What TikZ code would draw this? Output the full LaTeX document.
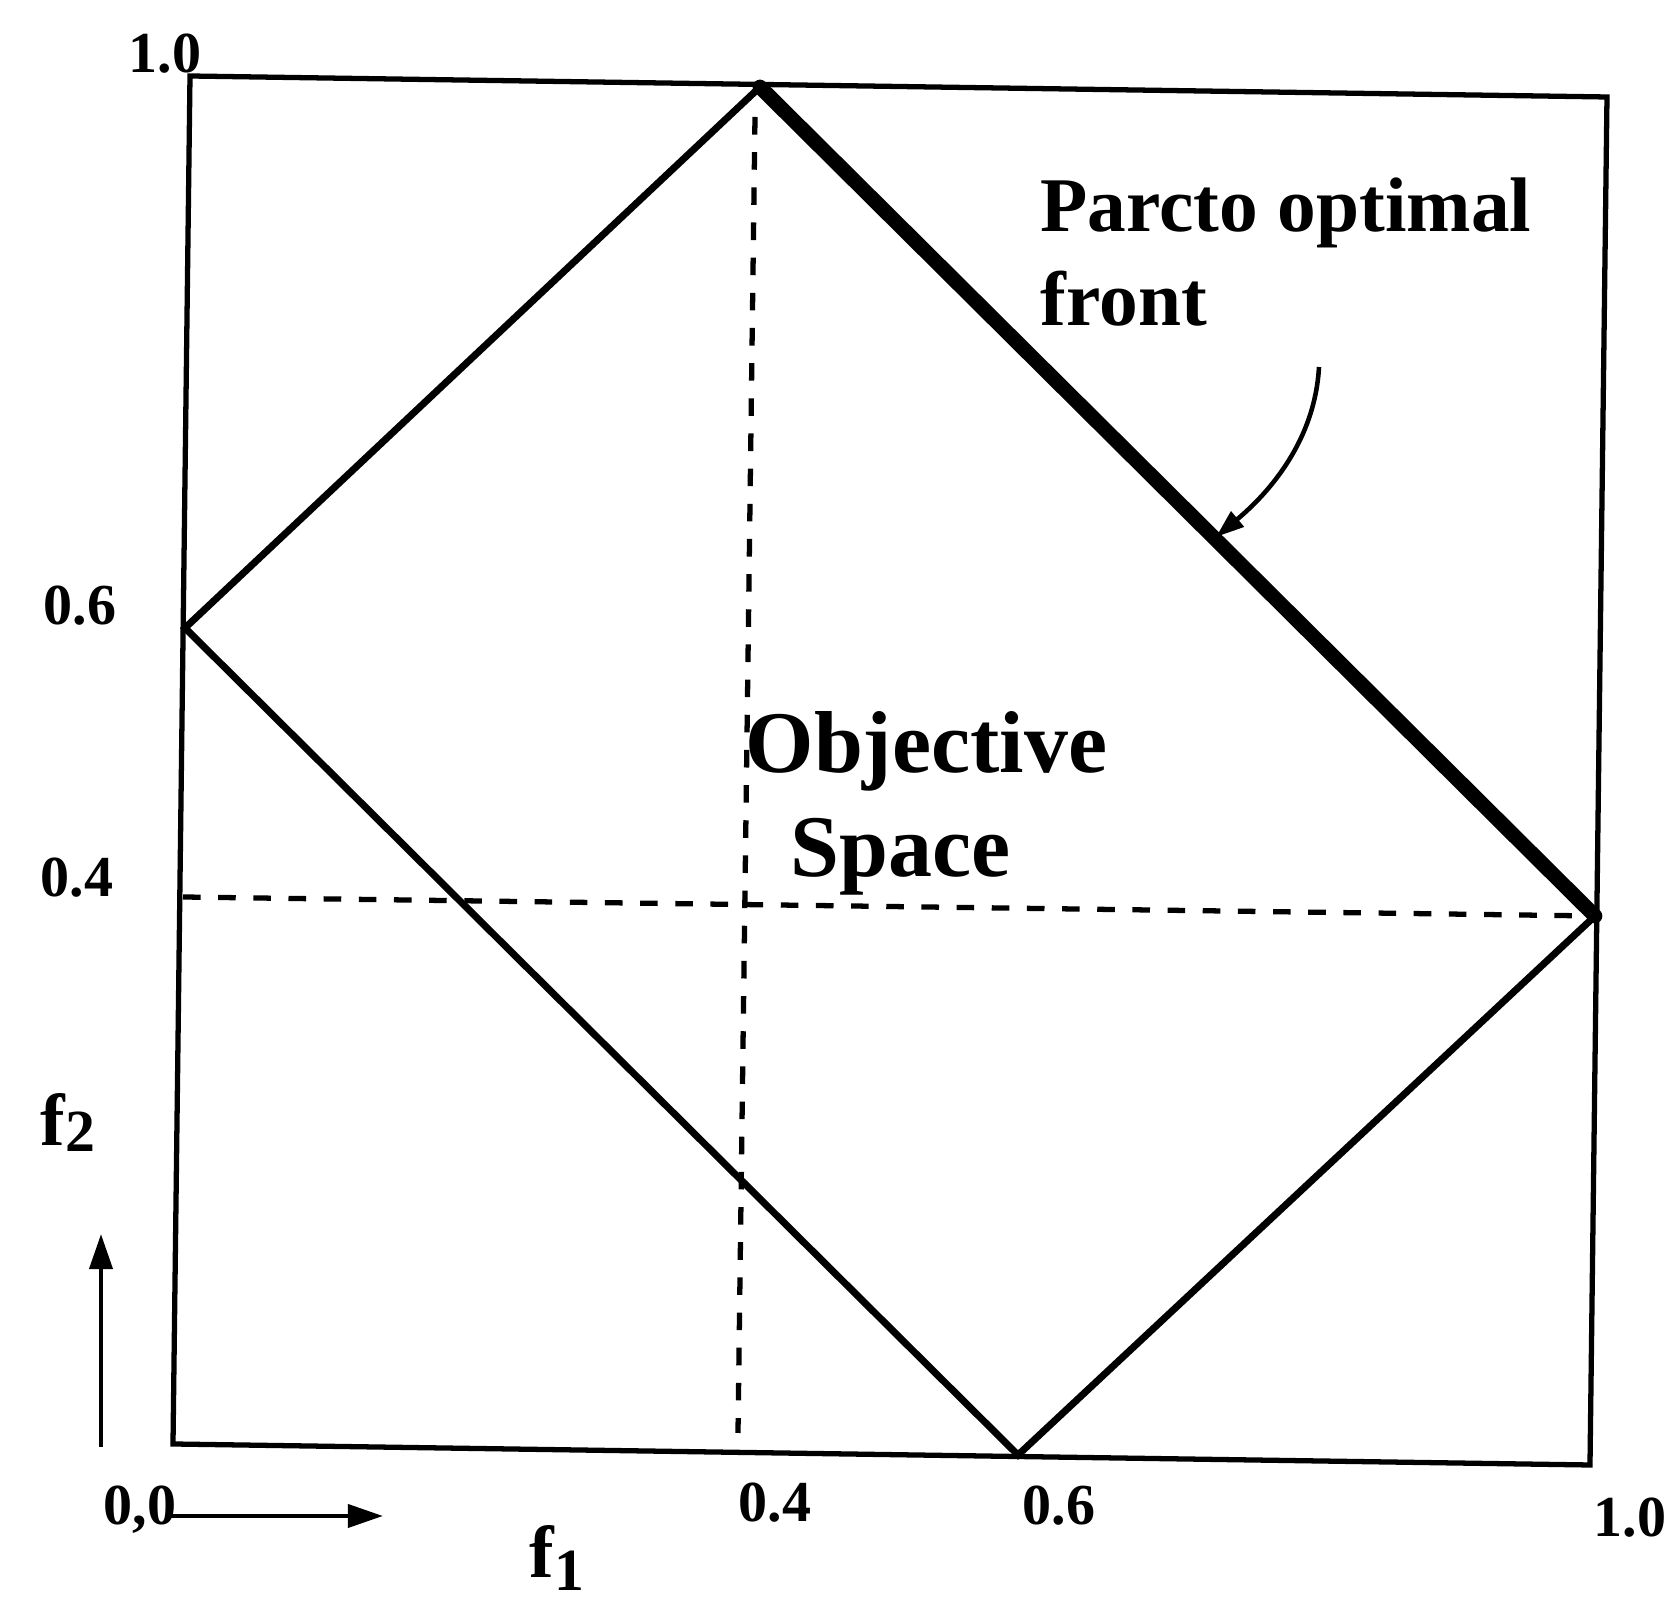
\documentclass[tikz,border=0pt]{standalone}
\usepackage{fontspec}
\setmainfont{Liberation Serif}
\usetikzlibrary{arrows.meta}
\begin{document}
\begin{tikzpicture}[x=0.01cm,y=-0.01cm,
  boxline/.style={line width=1.5pt, line join=miter},
  edge/.style={line width=2pt, line join=miter},
  frontline/.style={line width=4.2pt, line cap=round},
  guide/.style={line width=1.5pt, dash pattern=on 5pt off 5pt},
  axisarrow/.style={line width=1.3pt, -{Triangle[length=10pt,width=6.5pt]}},
  pointer/.style={line width=1.3pt, -{Triangle[length=8pt,width=5.5pt]}},
  ticklabel/.style={inner sep=0pt, anchor=base west, font=\fontsize{16.5}{18}\selectfont\bfseries},
  annot/.style={inner sep=0pt, anchor=base west, font=\fontsize{22}{27}\selectfont\bfseries},
  bigannot/.style={inner sep=0pt, anchor=base west, font=\fontsize{25}{30}\selectfont\bfseries},
  axislabel/.style={inner sep=0pt, anchor=base west, font=\fontsize{21}{24}\selectfont\bfseries}]
\useasboundingbox (0,0) rectangle (1668,1604);
% frame
\coordinate (TL) at (190,76);
\coordinate (TR) at (1607,97);
\coordinate (BR) at (1590,1465);
\coordinate (BL) at (173,1444);
\draw[boxline] (TL) -- (TR) -- (BR) -- (BL) -- cycle;
% diamond
\coordinate (DT) at (760,87);
\coordinate (DR) at (1595,916);
\coordinate (DB) at (1018,1455);
\coordinate (DL) at (185,628);
\draw[edge] (DR) -- (DB) -- (DL) -- (DT);
\draw[frontline] (DT) -- (DR);
% guides
\coordinate (VT) at (755,117);
\coordinate (VB) at (738,1433);
\coordinate (HL) at (183,897);
\draw[guide] (VT) -- (VB);
\draw[guide] (HL) -- (DR);
% axes arrows
\coordinate (A2s) at (101,1447);
\coordinate (A2e) at (101,1234);
\coordinate (A1s) at (170,1516);
\coordinate (A1e) at (383,1516);
\draw[axisarrow] (A2s) -- (A2e);
\draw[axisarrow] (A1s) -- (A1e);
% pointer
\coordinate (CS) at (1319,367);
\coordinate (CE) at (1216,537);
\draw[pointer] (CS) .. controls (1315,440) and (1270,492) .. (CE);
% labels
\node[ticklabel] (t10) at (128,73) {1.0};
\node[ticklabel] (t06) at (43,625) {0.6};
\node[ticklabel] (t04) at (40,897) {0.4};
\node[ticklabel] (t00) at (103,1525) {0,0};
\node[ticklabel] (b04) at (738,1522) {0.4};
\node[ticklabel] (b06) at (1022,1525) {0.6};
\node[ticklabel] (b10) at (1593,1537) {1.0};
\node[annot] (p1) at (1040,232) {Parcto optimal};
\node[annot] (p2) at (1040,326) {front};
\node[bigannot] (o1) at (745,773) {Objective};
\node[bigannot] (o2) at (790,877) {Space};
\node[axislabel] (f2) at (40,1146) {f\raisebox{-1.5pt}{\fontsize{17}{17}\selectfont 2}};
\node[axislabel] (f1) at (529,1578) {f\raisebox{-3.5pt}{\fontsize{17}{17}\selectfont 1}};
\end{tikzpicture}
\end{document}
